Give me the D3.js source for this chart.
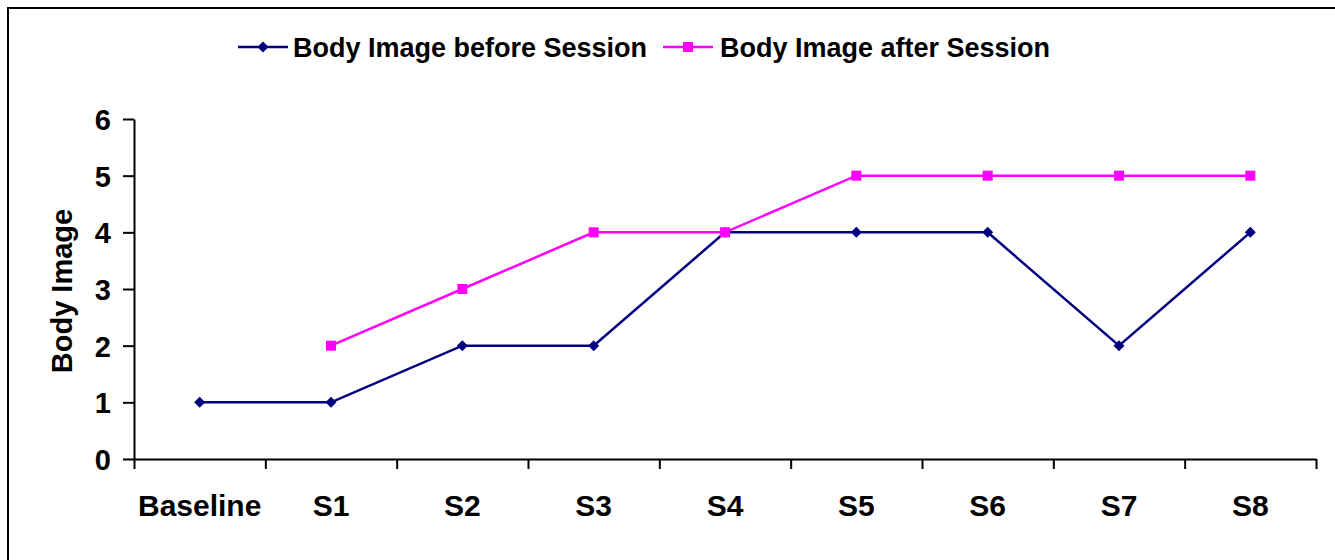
<!DOCTYPE html>
<html>
<head>
<meta charset="utf-8">
<script src="https://cdn.jsdelivr.net/npm/d3@7"></script>
<style>
  html, body { margin: 0; padding: 0; background: #fff; }
  svg { display: block; }
  text { font-family: Arial, "Liberation Sans", sans-serif; font-weight: bold; fill: #000; }
</style>
</head>
<body>
<svg id="chart" width="1335" height="560"></svg>
<script>
const categories = ["Baseline", "S1", "S2", "S3", "S4", "S5", "S6", "S7", "S8"];
const beforeValues = [1, 1, 2, 2, 4, 4, 4, 2, 4];
const afterValues = [null, 2, 3, 4, 4, 5, 5, 5, 5];
const yTicks = [0, 1, 2, 3, 4, 5, 6];
const seriesNames = ["Body Image before Session", "Body Image after Session"];
const yTitle = "Body Image";

const svg = d3.select("#chart");
const W = 1335, H = 560;

svg.append("rect").attr("x", 0).attr("y", 0).attr("width", W).attr("height", H).attr("fill", "#fff");
svg.append("rect").attr("x", 8).attr("y", 8).attr("width", W + 20).attr("height", H + 20)
  .attr("fill", "none").attr("stroke", "#000").attr("stroke-width", 2);

const x0 = 134, x1 = 1316, yTop = 119, yBot = 459;
const x = d3.scaleBand().domain(categories).range([x0, x1]).padding(0);
const xb = d3.scaleLinear().domain([0, categories.length]).range([x0, x1]);
const y = d3.scaleLinear().domain([0, 6]).range([yBot, yTop]);

// Y axis
const yAxis = svg.append("g").attr("transform", `translate(${x0},0)`)
  .call(d3.axisLeft(y).tickValues(yTicks).tickFormat(d3.format("d")).tickSize(11).tickSizeOuter(0).tickPadding(12));
yAxis.select(".domain").attr("stroke", "#000").attr("stroke-width", 2);
yAxis.selectAll(".tick line").attr("stroke", "#000").attr("stroke-width", 2);
yAxis.selectAll(".tick text").style("font-size", "29px").style("font-family", "Arial, 'Liberation Sans', sans-serif")
  .style("font-weight", "bold").attr("fill", "#000").attr("dy", "0.36em");

// X axis: tick marks at category boundaries
const xAxis = svg.append("g").attr("transform", `translate(0,${yBot})`)
  .call(d3.axisBottom(xb).tickValues(d3.range(categories.length + 1)).tickFormat("").tickSize(10).tickSizeOuter(0));
xAxis.select(".domain").attr("stroke", "#000").attr("stroke-width", 2);
xAxis.selectAll(".tick line").attr("stroke", "#000").attr("stroke-width", 2);

// X labels
const xLab = svg.append("g").attr("transform", `translate(0,${yBot})`)
  .call(d3.axisBottom(x).tickSize(0).tickPadding(36));
xLab.select(".domain").remove();
xLab.selectAll(".tick text").style("font-size", "30px").style("font-family", "Arial, 'Liberation Sans', sans-serif")
  .style("font-weight", "bold").attr("fill", "#000");

// Y title
svg.append("text")
  .attr("transform", `translate(72,291) rotate(-90)`)
  .attr("text-anchor", "middle")
  .style("font-size", "29px")
  .text(yTitle);

const colors = ["#000080", "#FF00FF"];
const line = d3.line()
  .defined(d => d.v !== null)
  .x(d => x(d.c) + x.bandwidth() / 2)
  .y(d => y(d.v));

const series = [beforeValues, afterValues].map((vals, i) => ({
  name: seriesNames[i], color: colors[i],
  pts: categories.map((c, j) => ({ c, v: vals[j] }))
}));

const diamondPath = "M0,-5.5L5.5,0L0,5.5L-5.5,0Z";

series.forEach((s, i) => {
  svg.append("path").datum(s.pts).attr("d", line)
    .attr("fill", "none").attr("stroke", s.color).attr("stroke-width", 2.5);
  const pts = s.pts.filter(d => d.v !== null);
  if (i === 0) {
    svg.selectAll(null).data(pts).enter().append("path")
      .attr("d", diamondPath)
      .attr("transform", d => `translate(${x(d.c) + x.bandwidth() / 2},${y(d.v)})`)
      .attr("fill", s.color);
  } else {
    svg.selectAll(null).data(pts).enter().append("rect")
      .attr("x", d => x(d.c) + x.bandwidth() / 2 - 5)
      .attr("y", d => y(d.v) - 5)
      .attr("width", 10).attr("height", 10)
      .attr("fill", s.color);
  }
});

// Legend
const legendItems = [
  { x: 238, tx: 293 },
  { x: 663, tx: 720 }
];
series.forEach((s, i) => {
  const L = legendItems[i];
  const ly = 47;
  svg.append("line").attr("x1", L.x).attr("x2", L.x + 50).attr("y1", ly).attr("y2", ly)
    .attr("stroke", s.color).attr("stroke-width", 2.5);
  if (i === 0) {
    svg.append("path").attr("d", diamondPath)
      .attr("transform", `translate(${L.x + 25},${ly})`).attr("fill", s.color);
  } else {
    svg.append("rect").attr("x", L.x + 20).attr("y", ly - 5).attr("width", 10).attr("height", 10).attr("fill", s.color);
  }
  svg.append("text").attr("x", L.tx).attr("y", ly).attr("dy", "0.36em")
    .style("font-size", "27px").text(s.name);
});
</script>
</body>
</html>
